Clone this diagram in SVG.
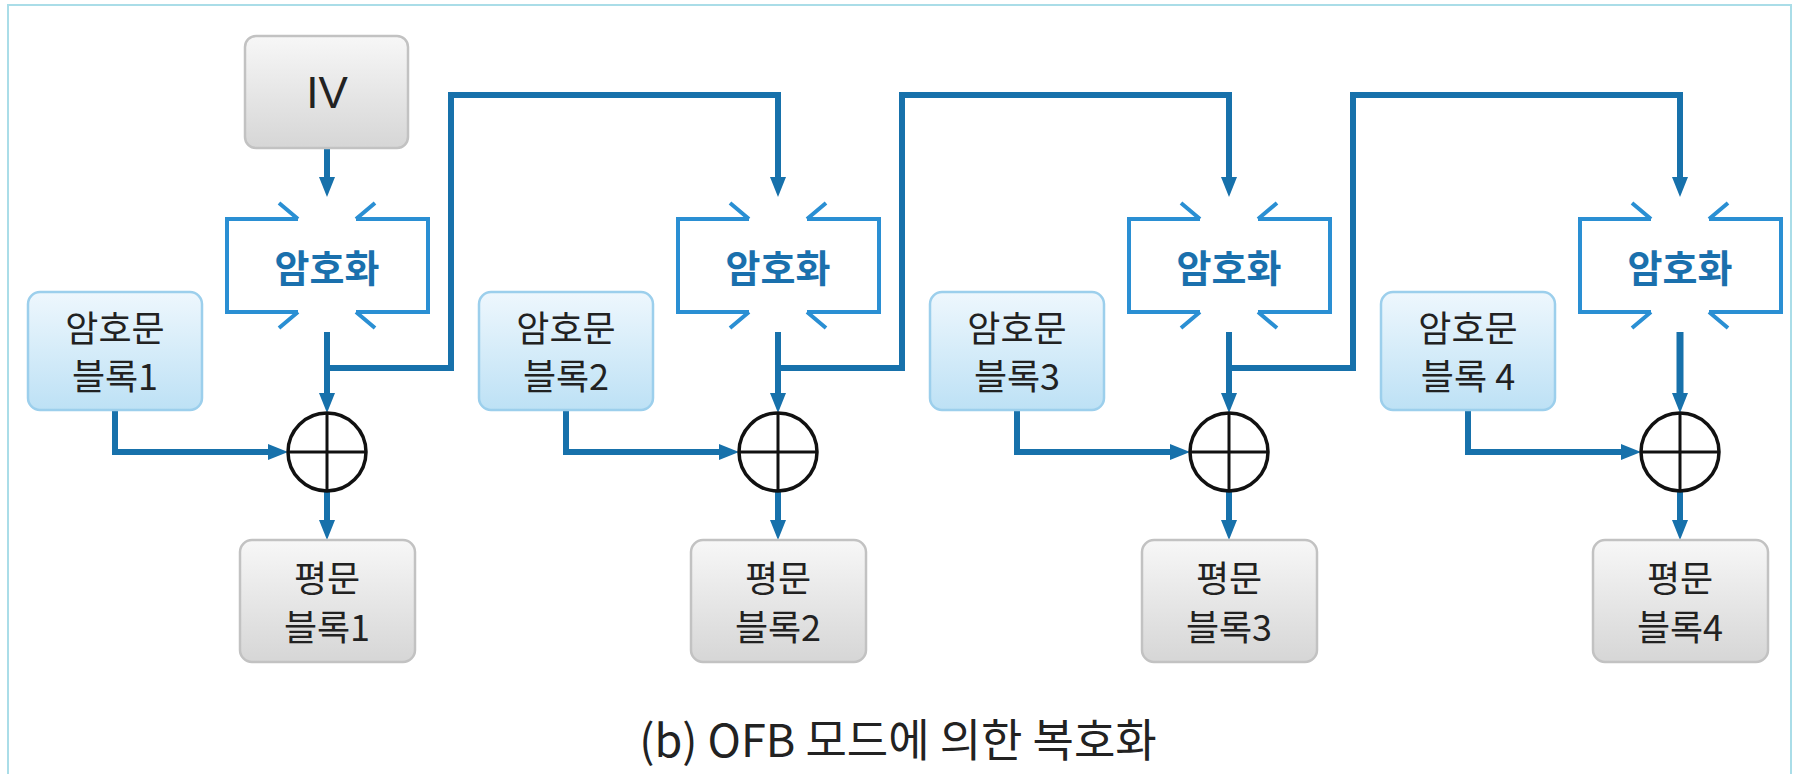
<svg xmlns="http://www.w3.org/2000/svg" width="1803" height="774" viewBox="0 0 1803 774">
<defs>
<linearGradient id="gBlue" x1="0" y1="0" x2="0" y2="1">
<stop offset="0" stop-color="#eef7fd"/><stop offset="1" stop-color="#bde1f5"/>
</linearGradient>
<linearGradient id="gGray" x1="0" y1="0" x2="0" y2="1">
<stop offset="0" stop-color="#f7f7f7"/><stop offset="1" stop-color="#d6d6d6"/>
</linearGradient>
<marker id="ah" viewBox="0 0 20 16" refX="2" refY="8" markerWidth="20" markerHeight="16" markerUnits="userSpaceOnUse" orient="auto">
<path d="M0,0 L20,8 L0,16 z" fill="#1771ab"/>
</marker>
<g id="enc">
<path d="M-29,219 H-100 V312 H-29 M-48,203 L-29,219 M-29,312 L-48,328 M29,219 H101 V312 H29 M48,203 L29,219 M29,312 L48,328" fill="none" stroke="#2a8fd3" stroke-width="4"/>
<text x="0" y="265" class="enc">암호화</text>
</g>
<g id="xor">
<circle cx="0" cy="452" r="39" fill="#fff" stroke="#111" stroke-width="3.5"/>
<path d="M0,413 V491 M-39,452 H39" stroke="#111" stroke-width="3"/>
</g>
</defs>
<style>
text{font-family:"Noto Sans CJK KR","Noto Sans",sans-serif;text-anchor:middle;dominant-baseline:central}
.enc{font-size:38px;font-weight:bold;fill:#1a70ad}
.lbl{font-size:36px;fill:#222}
.cbox{fill:url(#gBlue);stroke:#9ccfec;stroke-width:2.5}
.pbox{fill:url(#gGray);stroke:#c2c2c2;stroke-width:2.5}
.con{fill:none;stroke:#1771ab;stroke-width:6;marker-end:url(#ah)}
.cap{font-size:45px;fill:#222}
</style>
<rect x="8" y="5" width="1783" height="800" fill="#fff" stroke="#aadde8" stroke-width="2"/>

<g id="connectors">
<path class="con" d="M327,149 V179"/>
<path class="con" d="M327,332 V395"/>
<path class="con" d="M327,368 H451 V95 H778 V179"/>
<path class="con" d="M115,411 V452 H270"/>
<path class="con" d="M327,491 V522"/>

<path class="con" d="M778,332 V395"/>
<path class="con" d="M778,368 H902 V95 H1229 V179"/>
<path class="con" d="M566,411 V452 H721"/>
<path class="con" d="M778,491 V522"/>

<path class="con" d="M1229,332 V395"/>
<path class="con" d="M1229,368 H1353 V95 H1680 V179"/>
<path class="con" d="M1017,411 V452 H1172"/>
<path class="con" d="M1229,491 V522"/>

<path class="con" d="M1680,332 V395" style="stroke-width:7"/>
<path class="con" d="M1468,411 V452 H1623"/>
<path class="con" d="M1680,491 V522"/>
</g>

<g id="iv">
<rect x="245" y="36" width="163" height="112" rx="11" class="pbox"/>
<text x="327" y="92" style="font-family:'Liberation Sans',sans-serif;font-size:44px;fill:#222">IV</text>
</g>

<g id="enc1"><use href="#enc" x="327"/></g>
<g id="enc2"><use href="#enc" x="778"/></g>
<g id="enc3"><use href="#enc" x="1229"/></g>
<g id="enc4"><use href="#enc" x="1680"/></g>

<g id="xor1"><use href="#xor" x="327"/></g>
<g id="xor2"><use href="#xor" x="778"/></g>
<g id="xor3"><use href="#xor" x="1229"/></g>
<g id="xor4"><use href="#xor" x="1680"/></g>

<g id="cipher1">
<rect x="28" y="292" width="174" height="118" rx="12" class="cbox"/>
<text x="115" y="326" class="lbl">암호문</text><text x="115" y="374" class="lbl">블록1</text>
</g>
<g id="cipher2">
<rect x="479" y="292" width="174" height="118" rx="12" class="cbox"/>
<text x="566" y="326" class="lbl">암호문</text><text x="566" y="374" class="lbl">블록2</text>
</g>
<g id="cipher3">
<rect x="930" y="292" width="174" height="118" rx="12" class="cbox"/>
<text x="1017" y="326" class="lbl">암호문</text><text x="1017" y="374" class="lbl">블록3</text>
</g>
<g id="cipher4">
<rect x="1381" y="292" width="174" height="118" rx="12" class="cbox"/>
<text x="1468" y="326" class="lbl">암호문</text><text x="1468" y="374" class="lbl">블록 4</text>
</g>

<g id="plain1">
<rect x="240" y="540" width="175" height="122" rx="12" class="pbox"/>
<text x="327" y="576" class="lbl">평문</text><text x="327" y="625" class="lbl">블록1</text>
</g>
<g id="plain2">
<rect x="691" y="540" width="175" height="122" rx="12" class="pbox"/>
<text x="778" y="576" class="lbl">평문</text><text x="778" y="625" class="lbl">블록2</text>
</g>
<g id="plain3">
<rect x="1142" y="540" width="175" height="122" rx="12" class="pbox"/>
<text x="1229" y="576" class="lbl">평문</text><text x="1229" y="625" class="lbl">블록3</text>
</g>
<g id="plain4">
<rect x="1593" y="540" width="175" height="122" rx="12" class="pbox"/>
<text x="1680" y="576" class="lbl">평문</text><text x="1680" y="625" class="lbl">블록4</text>
</g>

<text x="898" y="737" class="cap">(b) OFB 모드에 의한 복호화</text>
</svg>
